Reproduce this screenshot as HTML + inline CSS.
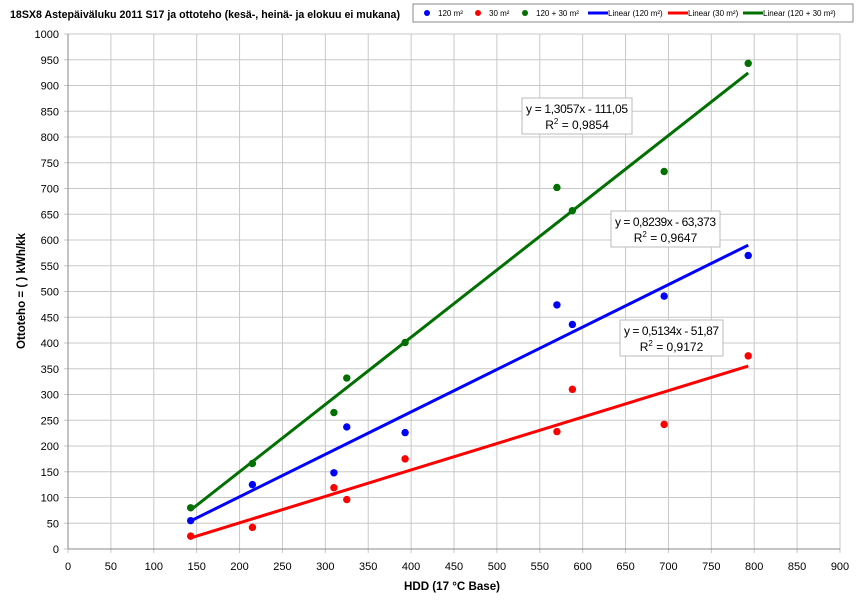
<!DOCTYPE html>
<html><head><meta charset="utf-8"><style>
body{margin:0;background:#fff;}
svg{display:block;font-family:"Liberation Sans",sans-serif;}
</style></head><body>
<svg id="s" width="860" height="608" xmlns="http://www.w3.org/2000/svg"></svg>
<script>
const s=document.getElementById('s');
const X0=68,XS=(840-68)/900,Y0=549,YS=(549-34)/1000;
const px=x=>X0+x*XS, py=y=>Y0-y*YS;
let h='<rect width="860" height="608" fill="#fff"/>';
for(let i=0;i<=18;i++){const x=px(i*50);h+=`<line x1="${x}" y1="34" x2="${x}" y2="553" stroke="#c8c8c8" stroke-width="1"/>`;
h+=`<text x="${x}" y="570" font-size="11" text-anchor="middle">${i*50}</text>`;}
for(let i=0;i<=20;i++){const y=py(i*50);h+=`<line x1="64" y1="${y}" x2="840" y2="${y}" stroke="#c8c8c8" stroke-width="1"/>`;
h+=`<text x="59" y="${y+4}" font-size="11" text-anchor="end">${i*50}</text>`;}
h+=`<line x1="68" y1="34" x2="68" y2="549" stroke="#888"/><line x1="68" y1="549" x2="840" y2="549" stroke="#888"/>`;
const xs=[143,215,310,325,393,570,588,695,793];
const d1=[55,125,148,237,226,474,436,491,570];
const d2=[25,42,119,96,175,228,310,242,375];
const d3=[80,166,265,332,401,702,657,733,943];
const ser=[[d3,'#007000',1.3057,-111.05],[d1,'#0000ff',0.8239,-63.373],[d2,'#ff0000',0.5134,-51.87]];
for(const [d,c,a,b] of ser){h+=`<line x1="${px(143)}" y1="${py(a*143+b)}" x2="${px(793)}" y2="${py(a*793+b)}" stroke="${c}" stroke-width="3"/>`;}
for(const [d,c] of ser){d.forEach((v,i)=>h+=`<circle cx="${px(xs[i])}" cy="${py(v)}" r="3.7" fill="${c}"/>`);}
function box(x,y,w,l1,l2){h+=`<rect x="${x}" y="${y}" width="${w}" height="36" fill="#fff" stroke="#bbb"/>
<text x="${x+w/2}" y="${y+15}" font-size="12" text-anchor="middle" textLength="${w-8}">${l1}</text>
<text x="${x+w/2}" y="${y+31}" font-size="12" text-anchor="middle">R<tspan font-size="8" dy="-5">2</tspan><tspan dy="5"> = ${l2}</tspan></text>`;}
box(522,98,110,'y = 1,3057x - 111,05','0,9854');
box(611,211,109,'y = 0,8239x - 63,373','0,9647');
box(620,320,103,'y = 0,5134x - 51,87','0,9172');
h+=`<text x="10" y="18" font-size="11" font-weight="bold" textLength="390" lengthAdjust="spacingAndGlyphs">18SX8 Astepäiväluku 2011 S17 ja ottoteho (kesä-, heinä- ja elokuu ei mukana)</text>`;
h+=`<rect x="413" y="4" width="440" height="18" fill="#fff" stroke="#888"/>`;
h+=`<circle cx="427" cy="13" r="3" fill="#0000ff"/><text x="438" y="16" font-size="8">120 m²</text>`;
h+=`<circle cx="478" cy="13" r="3" fill="#ff0000"/><text x="489" y="16" font-size="8">30 m²</text>`;
h+=`<circle cx="525" cy="13" r="3" fill="#007000"/><text x="536" y="16" font-size="8">120 + 30 m²</text>`;
h+=`<rect x="588" y="11.5" width="20" height="3" fill="#0000ff"/><text x="608" y="16" font-size="8">Linear (120 m²)</text>`;
h+=`<rect x="668" y="11.5" width="20" height="3" fill="#ff0000"/><text x="688" y="16" font-size="8">Linear (30 m²)</text>`;
h+=`<rect x="743" y="11.5" width="20" height="3" fill="#007000"/><text x="763" y="16" font-size="8">Linear (120 + 30 m²)</text>`;
h+=`<text x="452" y="590" font-size="12" font-weight="bold" text-anchor="middle" textLength="96" lengthAdjust="spacingAndGlyphs">HDD (17 °C Base)</text>`;
h+=`<text transform="translate(25,291) rotate(-90)" font-size="12" font-weight="bold" text-anchor="middle" textLength="116" lengthAdjust="spacingAndGlyphs">Ottoteho = ( ) kWh/kk</text>`;
s.innerHTML=h;
</script>
</body></html>
